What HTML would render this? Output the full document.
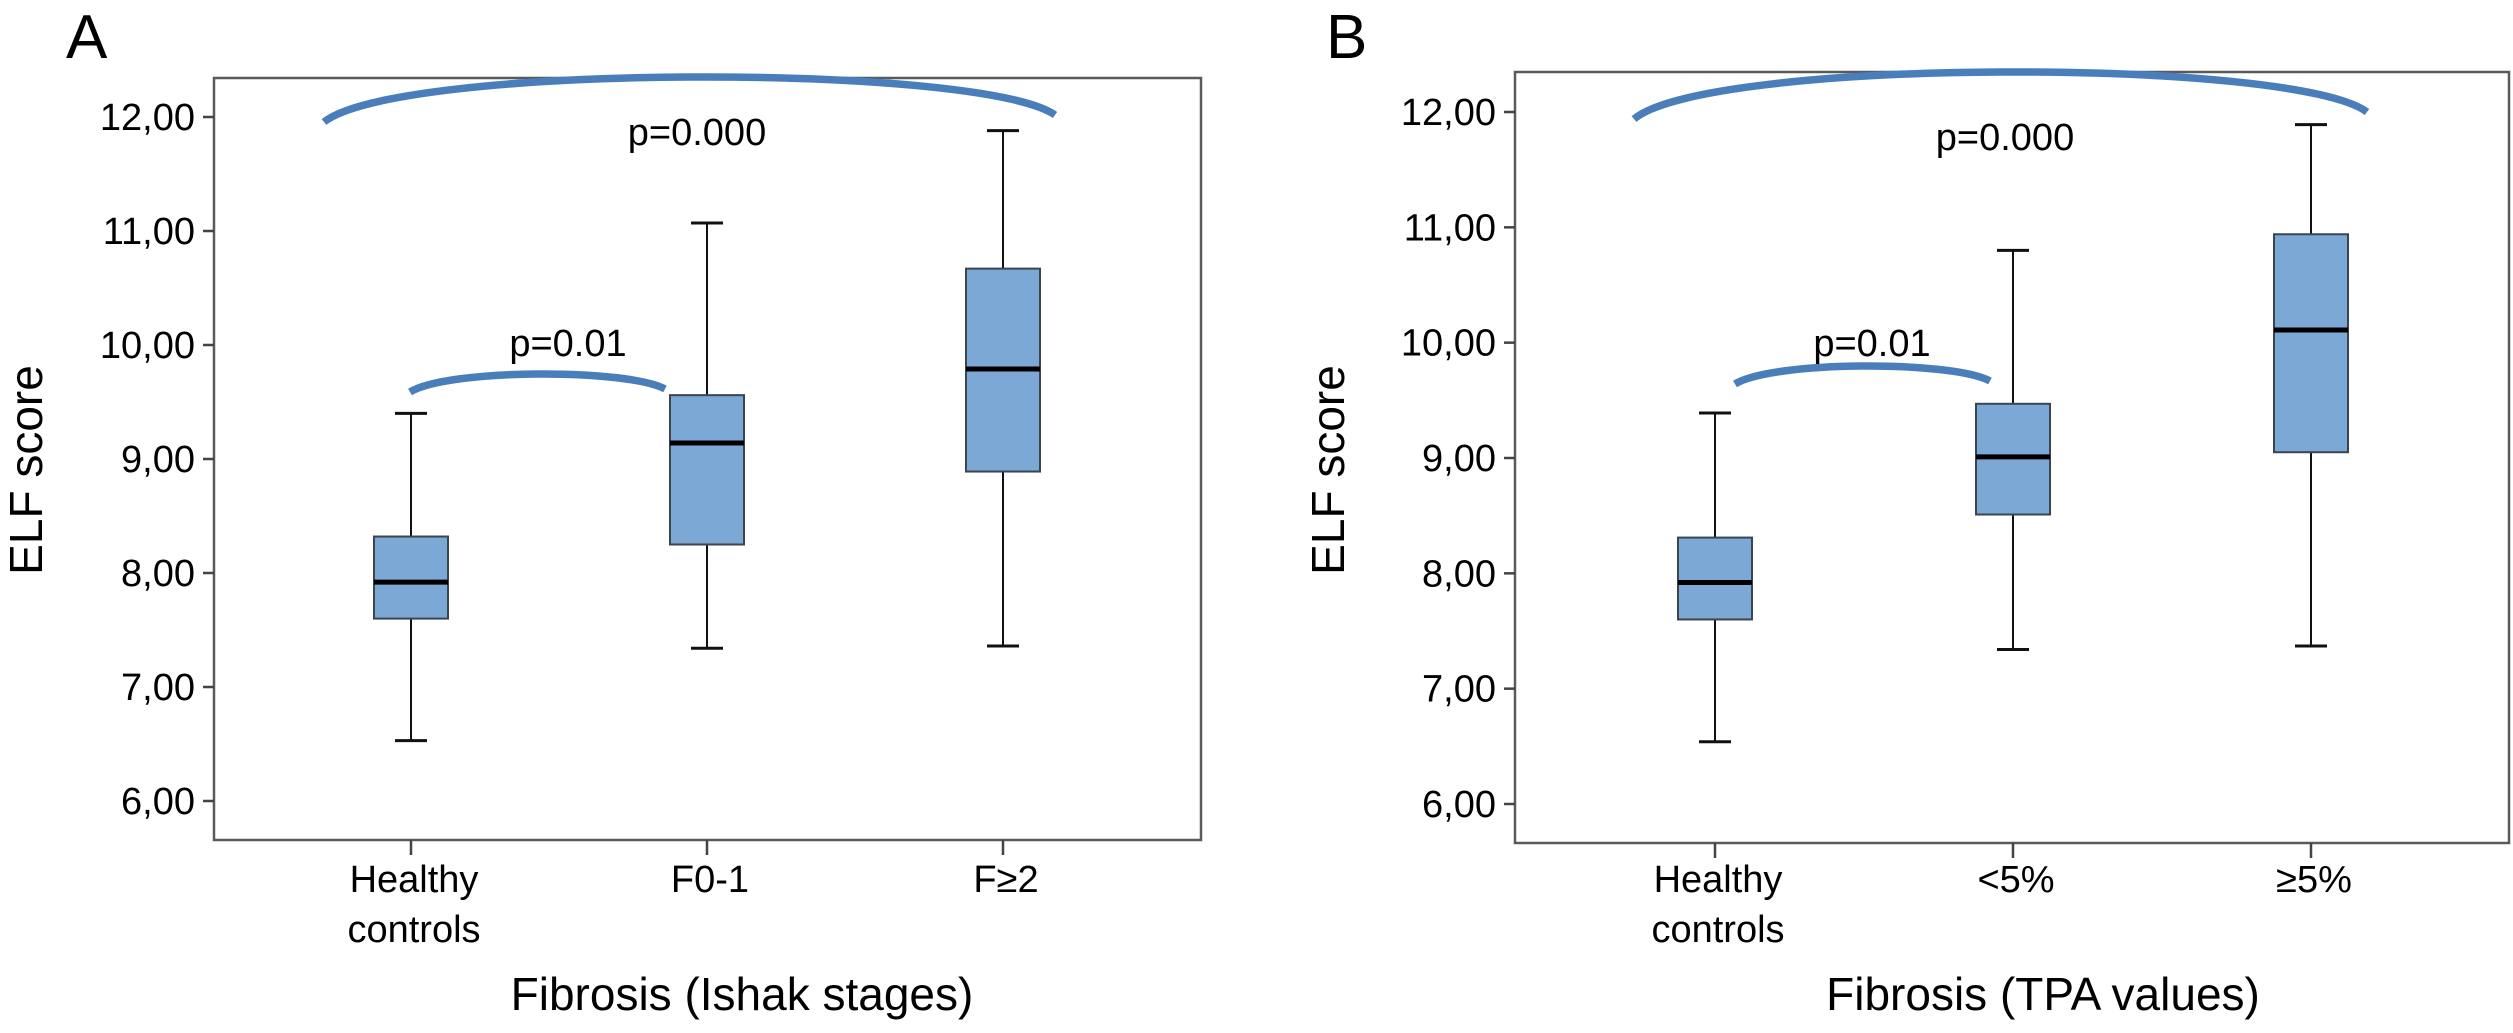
<!DOCTYPE html>
<html><head><meta charset="utf-8">
<style>
html,body{margin:0;padding:0;background:#fff;}
svg{display:block;font-family:"Liberation Sans",Arial,sans-serif;}
</style></head>
<body>
<svg id="chart" width="2513" height="1033" viewBox="0 0 2513 1033" xmlns="http://www.w3.org/2000/svg"></svg>
<script>
// ---- data ----
const yTicks = [6, 7, 8, 9, 10, 11, 12];
const yTickLabels = ["6,00", "7,00", "8,00", "9,00", "10,00", "11,00", "12,00"];
const catsA = ["Healthy|controls", "F0-1", "F\u22652"];
const catsB = ["Healthy|controls", "<5%", "\u22655%"];
const lowA = [6.53, 7.34, 7.36];
const q1A = [7.60, 8.25, 8.89];
const medA = [7.92, 9.14, 9.79];
const q3A = [8.32, 9.56, 10.67];
const highA = [9.40, 11.07, 11.88];
const lowB = [6.54, 7.34, 7.37];
const q1B = [7.60, 8.51, 9.05];
const medB = [7.92, 9.01, 10.11];
const q3B = [8.31, 9.47, 10.94];
const highB = [9.39, 10.80, 11.89];
const pBigA = "p=0.000", pSmallA = "p=0.01";
const pBigB = "p=0.000", pSmallB = "p=0.01";

const NS = "http://www.w3.org/2000/svg";
const svg = document.getElementById("chart");
function mk(tag, attrs, parent) {
  const e = document.createElementNS(NS, tag);
  for (const k in attrs) e.setAttribute(k, attrs[k]);
  (parent || svg).appendChild(e);
  return e;
}

function panel(cfg) {
  const g = mk("g", {});
  
  
  const y = v => cfg.y6 + (v - 6) * (cfg.y12 - cfg.y6) / 6;
  const x = i => cfg.xs[0] + i * (cfg.xs[1] - cfg.xs[0]);

  const letter = mk("text", {x: cfg.letterX, y: 58, "font-size": 62}, g);
  letter.textContent = cfg.letter;
  
  

  const frame = mk("rect", {x: cfg.left, y: cfg.top, width: cfg.right - cfg.left, height: cfg.bottom - cfg.top, fill: "none", stroke: "#5a5a5a", "stroke-width": 2.5}, g);
  
  

  yTicks.forEach((v, i) => {
    const t = mk("line", {x1: cfg.left - 11, x2: cfg.left, y1: y(v), y2: y(v), stroke: "#444", "stroke-width": 2.5}, g);
    
    
    const l = mk("text", {x: cfg.left - 19, y: y(v) + 13, "font-size": 38, "text-anchor": "end"}, g);
    l.textContent = yTickLabels[i];
    
    
  });

  const yt = mk("text", {x: 0, y: 0, "font-size": 46, "text-anchor": "middle", transform: `translate(${cfg.yTitleX},${cfg.yTitleY}) rotate(-90)`}, g);
  yt.textContent = "ELF score";
  
  

  cfg.cats.forEach((c, i) => {
    const t = mk("line", {x1: x(i), x2: x(i), y1: cfg.bottom, y2: cfg.bottom + 15, stroke: "#444", "stroke-width": 2.5}, g);
    
    
    const lines = c.split("|");
    lines.forEach((s, j) => {
      const l = mk("text", {x: x(i) + 3, y: 892 + j * 50, "font-size": 38, "text-anchor": "middle"}, g);
      l.textContent = s;
      
      
    });
  });

  const xt = mk("text", {x: cfg.xTitleX, y: 1010, "font-size": 46, "text-anchor": "middle"}, g);
  xt.textContent = cfg.xTitle;
  
  

  const hw = 37, cw = 16;
  cfg.cats.forEach((c, i) => {
    const bg = mk("g", {}, g);
    
    
    mk("line", {x1: x(i), x2: x(i), y1: y(cfg.high[i]), y2: y(cfg.q3[i]), stroke: "#111", "stroke-width": 2}, bg);
    mk("line", {x1: x(i), x2: x(i), y1: y(cfg.q1[i]), y2: y(cfg.low[i]), stroke: "#111", "stroke-width": 2}, bg);
    mk("line", {x1: x(i) - cw, x2: x(i) + cw, y1: y(cfg.high[i]), y2: y(cfg.high[i]), stroke: "#111", "stroke-width": 3}, bg);
    mk("line", {x1: x(i) - cw, x2: x(i) + cw, y1: y(cfg.low[i]), y2: y(cfg.low[i]), stroke: "#111", "stroke-width": 3}, bg);
    mk("rect", {x: x(i) - hw, y: y(cfg.q3[i]), width: 2 * hw, height: y(cfg.q1[i]) - y(cfg.q3[i]), fill: "#7ba8d5", stroke: "#3a4550", "stroke-width": 2}, bg);
    mk("line", {x1: x(i) - hw, x2: x(i) + hw, y1: y(cfg.med[i]), y2: y(cfg.med[i]), stroke: "#000", "stroke-width": 5}, bg);
  });

  cfg.arcs.forEach(a => {
    const w = a.x2 - a.x1;
    const c = (8 * a.py - a.y1 - a.y2) / 6;
    const p = mk("path", {d: `M${a.x1},${a.y1} C${a.x1 + w * a.k},${c} ${a.x2 - w * a.k},${c} ${a.x2},${a.y2}`, fill: "none", stroke: "#4a7ebb", "stroke-width": 7.5}, g);
    
    
    const t = mk("text", {x: a.tx, y: a.ty, "font-size": 38, "text-anchor": "middle"}, g);
    t.textContent = a.label;
    
    
  });
}

panel({name: "panel-a", letter: "A", letterX: 66, left: 214, right: 1201, top: 78, bottom: 840,
  y6: 801, y12: 117, xs: [411, 707], cats: catsA,
  low: lowA, q1: q1A, med: medA, q3: q3A, high: highA,
  yTitleX: 42, yTitleY: 470, xTitleX: 742, xTitle: "Fibrosis (Ishak stages)",
  arcs: [
    {name: "significance-arc-overall", x1: 324, y1: 122, x2: 1055, y2: 115, py: 77, k: 0.1, label: pBigA, tx: 697, ty: 145},
    {name: "significance-arc-pair", x1: 410, y1: 392, x2: 665, y2: 389, py: 374, k: 0.15, label: pSmallA, tx: 568, ty: 356}
  ]});

panel({name: "panel-b", letter: "B", letterX: 1326, left: 1515, right: 2509, top: 72, bottom: 843,
  y6: 804, y12: 112, xs: [1715, 2013], cats: catsB,
  low: lowB, q1: q1B, med: medB, q3: q3B, high: highB,
  yTitleX: 1344, yTitleY: 470, xTitleX: 2043, xTitle: "Fibrosis (TPA values)",
  arcs: [
    {name: "significance-arc-overall", x1: 1634, y1: 119, x2: 2367, y2: 112, py: 72, k: 0.1, label: pBigB, tx: 2005, ty: 150},
    {name: "significance-arc-pair", x1: 1735, y1: 384, x2: 1990, y2: 381, py: 366, k: 0.15, label: pSmallB, tx: 1872, ty: 356}
  ]});
</script>
</body></html>
